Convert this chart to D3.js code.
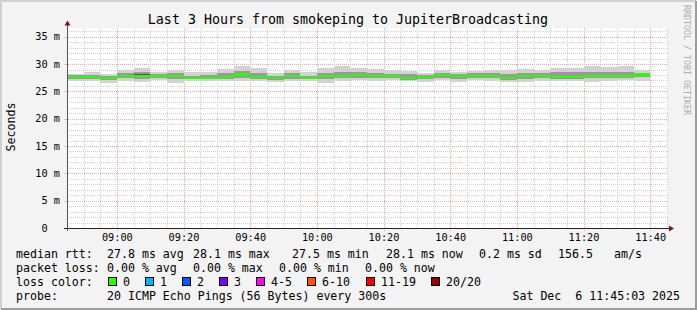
<!DOCTYPE html>
<html>
<head>
<meta charset="utf-8">
<script src="https://cdn.jsdelivr.net/npm/d3@7"></script>
<style>
  body { margin: 0; background: #f3f3f3; }
  text { font-family: "DejaVu Sans Mono", monospace; white-space: pre; }
</style>
</head>
<body>
<div id="chart"></div>
<script>
// median rtt per 5 minute step (ms), 08:45 .. 11:40
const median = [27.7, 27.7, 27.5, 27.9, 27.9, 27.8, 27.8, 27.5, 27.5, 27.7, 28.1, 27.6,
  27.5, 27.8, 27.5, 27.8, 27.8, 28.0, 27.8, 27.8, 27.5, 27.6, 28.0, 27.8, 27.85, 27.8,
  27.5, 27.85, 27.85, 27.7, 27.7, 27.9, 27.9, 27.9, 28.1];

// smoke: ping spread per step (ms)
const pingMax = [28.2, 28.5, 28.1, 28.9, 29.2, 28.6, 28.9, 28.6, 28.6, 29.1, 29.6, 29.3,
  28.4, 28.9, 28.6, 29.3, 29.6, 29.3, 29.1, 28.9, 28.7, 28.3, 28.9, 28.5, 28.8, 29.0,
  28.9, 29.1, 29.0, 29.2, 29.3, 29.6, 29.4, 29.6, 28.9];
const pingHi = [28.0, 28.0, 27.8, 28.4, 28.6, 28.1, 28.3, 27.9, 28.0, 28.4, 28.7, 28.3,
  27.9, 28.3, 27.9, 28.4, 28.6, 28.5, 28.4, 28.2, 28.1, 28.0, 28.4, 28.2, 28.3, 28.4,
  28.2, 28.4, 28.4, 28.5, 28.5, 28.6, 28.5, 28.5, 28.4];
const pingInHi = [27.85, 27.85, 27.65, 28.05, 28.1, 27.95, 27.95, 27.7, 27.65, 27.85, 28.3, 27.8,
  27.65, 27.95, 27.65, 27.95, 28.0, 28.2, 27.95, 27.95, 27.65, 27.75, 28.15, 27.95, 28.0, 27.95,
  27.65, 28.0, 28.0, 27.85, 27.85, 28.05, 28.05, 28.05, 28.3];
const pingInLo = [27.5, 27.55, 27.35, 27.7, 27.7, 27.55, 27.55, 27.35, 27.35, 27.5, 27.85, 27.4,
  27.25, 27.6, 27.3, 27.6, 27.6, 27.8, 27.6, 27.6, 27.3, 27.4, 27.8, 27.6, 27.65, 27.6,
  27.3, 27.65, 27.65, 27.5, 27.5, 27.7, 27.7, 27.7, 27.9];
const pingLo = [27.3, 27.3, 27.1, 27.4, 27.3, 27.4, 27.2, 27.2, 27.2, 27.3, 27.5, 27.2,
  27.1, 27.3, 27.2, 27.3, 27.4, 27.5, 27.4, 27.4, 27.1, 27.2, 27.5, 27.3, 27.4, 27.4,
  27.1, 27.3, 27.4, 27.3, 27.3, 27.4, 27.4, 27.5, 27.6];
const pingMin = [26.9, 26.9, 26.6, 26.9, 26.8, 27.0, 26.6, 26.9, 26.9, 26.9, 26.9, 26.9,
  26.8, 26.9, 26.9, 26.6, 26.9, 27.0, 26.9, 27.0, 26.9, 26.8, 27.0, 26.8, 27.0, 26.9,
  26.8, 26.8, 26.9, 26.9, 26.9, 26.8, 26.9, 27.0, 26.9];

const yTickValues = [0, 5, 10, 15, 20, 25, 30, 35];
const yTickLabels = ["0\u00a0\u00a0", "5 m", "10 m", "15 m", "20 m", "25 m", "30 m", "35 m"];

const rttStats = ["27.8 ms avg", "28.1 ms max", "27.5 ms min", "28.1 ms now", "0.2 ms sd", "156.5", "am/s"];
const lossStats = ["0.00 % avg", "0.00 % max", "0.00 % min", "0.00 % now"];
const lossLabels = ["0", "1", "2", "3", "4-5", "6-10", "11-19", "20/20"];
const lossColors = ["#26ff00", "#00b8ff", "#0059ff", "#7e00ff", "#ff00fe", "#ff5500", "#ff0000", "#a10000"];

const W = 697, H = 310;
const pLeft = 67, pRight = 667, pTop = 28, pBottom = 228;

const tStart = new Date(2025, 11, 6, 8, 45, 3);
const tEnd = new Date(2025, 11, 6, 11, 45, 3);
const firstStep = new Date(2025, 11, 6, 8, 45, 0);

const svg = d3.select("#chart")
  .append("svg")
  .attr("width", W)
  .attr("height", H);

// canvas + 3d border
svg.append("rect").attr("width", W).attr("height", H).attr("fill", "#f3f3f3");
svg.append("path").attr("d", `M1,${H - 1}V1H${W - 1}`).attr("fill", "none")
  .attr("stroke", "#cfcfcf").attr("stroke-width", 2);
svg.append("path").attr("d", `M1,${H - 1}H${W - 1}V1`).attr("fill", "none")
  .attr("stroke", "#9c9c9c").attr("stroke-width", 2);

svg.append("rect")
  .attr("x", pLeft).attr("y", pTop)
  .attr("width", pRight - pLeft + 1).attr("height", pBottom - pTop)
  .attr("fill", "#ffffff");

const x = d3.scaleTime().domain([tStart, tEnd]).range([pLeft, pRight]);
const y = d3.scaleLinear().domain([0, 36.6]).range([pBottom, pTop]);

// grid
const g = svg.append("g").attr("shape-rendering", "crispEdges");
const majorT = x.ticks(d3.timeMinute.every(20));
const minorT = x.ticks(d3.timeMinute.every(5)).filter(t => t.getMinutes() % 20 !== 0);
const minorY = d3.range(1, 37).filter(v => v % 5 !== 0);

g.selectAll(".hminor").data(minorY).enter().append("line")
  .attr("x1", pLeft).attr("x2", pRight + 1)
  .attr("y1", d => Math.round(y(d)) + 0.5).attr("y2", d => Math.round(y(d)) + 0.5)
  .attr("stroke", "#d2d2d2").attr("stroke-dasharray", "1,1");
g.selectAll(".vminor").data(minorT).enter().append("line")
  .attr("x1", d => Math.round(x(d)) + 0.5).attr("x2", d => Math.round(x(d)) + 0.5)
  .attr("y1", pTop).attr("y2", pBottom)
  .attr("stroke", "#d2d2d2").attr("stroke-dasharray", "1,1");
g.selectAll(".hmajor").data(yTickValues.slice(1)).enter().append("line")
  .attr("x1", pLeft - 3).attr("x2", pRight + 1)
  .attr("y1", d => Math.round(y(d)) + 0.5).attr("y2", d => Math.round(y(d)) + 0.5)
  .attr("stroke", "#eea6a6").attr("stroke-dasharray", "1,1");
g.selectAll(".vmajor").data(majorT).enter().append("line")
  .attr("x1", d => Math.round(x(d)) + 0.5).attr("x2", d => Math.round(x(d)) + 0.5)
  .attr("y1", pTop).attr("y2", pBottom + 3)
  .attr("stroke", "#eea6a6").attr("stroke-dasharray", "1,1");

// smoke + median
svg.append("clipPath").attr("id", "plotclip")
  .append("rect").attr("x", pLeft).attr("y", pTop).attr("width", pRight - pLeft).attr("height", pBottom - pTop);

const steps = median.map((m, i) => ({
  t0: d3.timeMinute.offset(firstStep, 5 * i),
  t1: d3.timeMinute.offset(firstStep, 5 * (i + 1)),
  i
}));

const data = svg.append("g").attr("clip-path", "url(#plotclip)").attr("shape-rendering", "crispEdges");

const bands = [
  { lo: pingMin, hi: pingMax, color: "#d2d2d2" },
  { lo: pingLo, hi: pingHi, color: "#9a9a9a" },
  { lo: pingInLo, hi: pingInHi, color: "#4e4e4e" }
];

bands.forEach(b => {
  data.append("g").selectAll("rect")
    .data(steps)
    .enter()
    .append("rect")
    .attr("x", d => x(d.t0))
    .attr("width", d => x(d.t1) - x(d.t0))
    .attr("y", d => y(b.hi[d.i]))
    .attr("height", d => y(b.lo[d.i]) - y(b.hi[d.i]))
    .attr("fill", b.color);
});

data.append("g").selectAll("rect")
  .data(steps)
  .enter()
  .append("rect")
  .attr("x", d => x(d.t0))
  .attr("width", d => x(d.t1) - x(d.t0))
  .attr("y", d => y(median[d.i]) - 1)
  .attr("height", 2.2)
  .attr("fill", lossColors[0]);

// axes
svg.append("line").attr("x1", pLeft - 3).attr("x2", pRight + 2)
  .attr("y1", pBottom + 0.5).attr("y2", pBottom + 0.5).attr("stroke", "#222");
svg.append("line").attr("x1", pLeft + 0.5).attr("x2", pLeft + 0.5)
  .attr("y1", pBottom + 3).attr("y2", pTop - 3).attr("stroke", "#555");
svg.append("path").attr("d", `M${pLeft - 2.5},${pTop - 2.5}L${pLeft + 0.5},${pTop - 7.5}L${pLeft + 3.5},${pTop - 2.5}Z`)
  .attr("fill", "#7f1515");
svg.append("path").attr("d", `M${pRight + 2},${pBottom - 2.5}L${pRight + 7},${pBottom + 0.5}L${pRight + 2},${pBottom + 3.5}Z`)
  .attr("fill", "#7f1515");

svg.append("g").selectAll("text")
  .data(yTickValues)
  .enter()
  .append("text")
  .attr("x", 60)
  .attr("y", d => y(d) + 3.7)
  .attr("text-anchor", "end")
  .style("font-size", "10.25px")
  .style("fill", "#000")
  .text((d, i) => yTickLabels[i]);

svg.append("g").selectAll("text")
  .data(majorT)
  .enter()
  .append("text")
  .attr("x", d => x(d) + 0.5)
  .attr("y", 241)
  .attr("text-anchor", "middle")
  .style("font-size", "10.25px")
  .style("fill", "#000")
  .text(d3.timeFormat("%H:%M"));

// title, unit, watermark
svg.append("text")
  .attr("x", 348).attr("y", 24)
  .attr("text-anchor", "middle")
  .style("font-size", "13.3px")
  .text("Last 3 Hours from smokeping to JupiterBroadcasting");

svg.append("text")
  .attr("transform", "translate(15,127) rotate(-90)")
  .attr("text-anchor", "middle")
  .style("font-size", "11.6px")
  .text("Seconds");

svg.append("text")
  .attr("transform", "translate(684,5) rotate(90)")
  .style("font-size", "8.3px")
  .style("fill", "#acacac")
  .text("RRDTOOL / TOBI OETIKER");

// legend
const legend = svg.append("g").style("font-size", "11.6px").style("fill", "#000");
const rttX = [107, 193, 292, 386, 479, 558, 614];
const lossX = [107, 193, 279, 365];
const boxX = [108, 145, 182, 219, 256, 307, 366, 431];

legend.append("text").attr("x", 16).attr("y", 258).text("median rtt:");
rttStats.forEach((s, i) => legend.append("text").attr("x", rttX[i]).attr("y", 258).text(s));

legend.append("text").attr("x", 16).attr("y", 272).text("packet loss:");
lossStats.forEach((s, i) => legend.append("text").attr("x", lossX[i]).attr("y", 272).text(s));

legend.append("text").attr("x", 16).attr("y", 286).text("loss color:");
lossLabels.forEach((s, i) => {
  legend.append("rect")
    .attr("x", boxX[i] + 0.5).attr("y", 277.5)
    .attr("width", 8).attr("height", 8)
    .attr("fill", lossColors[i])
    .attr("stroke", "#000");
  legend.append("text").attr("x", boxX[i] + 15).attr("y", 286).text(s);
});

legend.append("text").attr("x", 16).attr("y", 300).text("probe:");
legend.append("text").attr("x", 107).attr("y", 300).text("20 ICMP Echo Pings (56 Bytes) every 300s");
legend.append("text").attr("x", 680).attr("y", 300).attr("text-anchor", "end")
  .text("Sat Dec  6 11:45:03 2025");
</script>
</body>
</html>
